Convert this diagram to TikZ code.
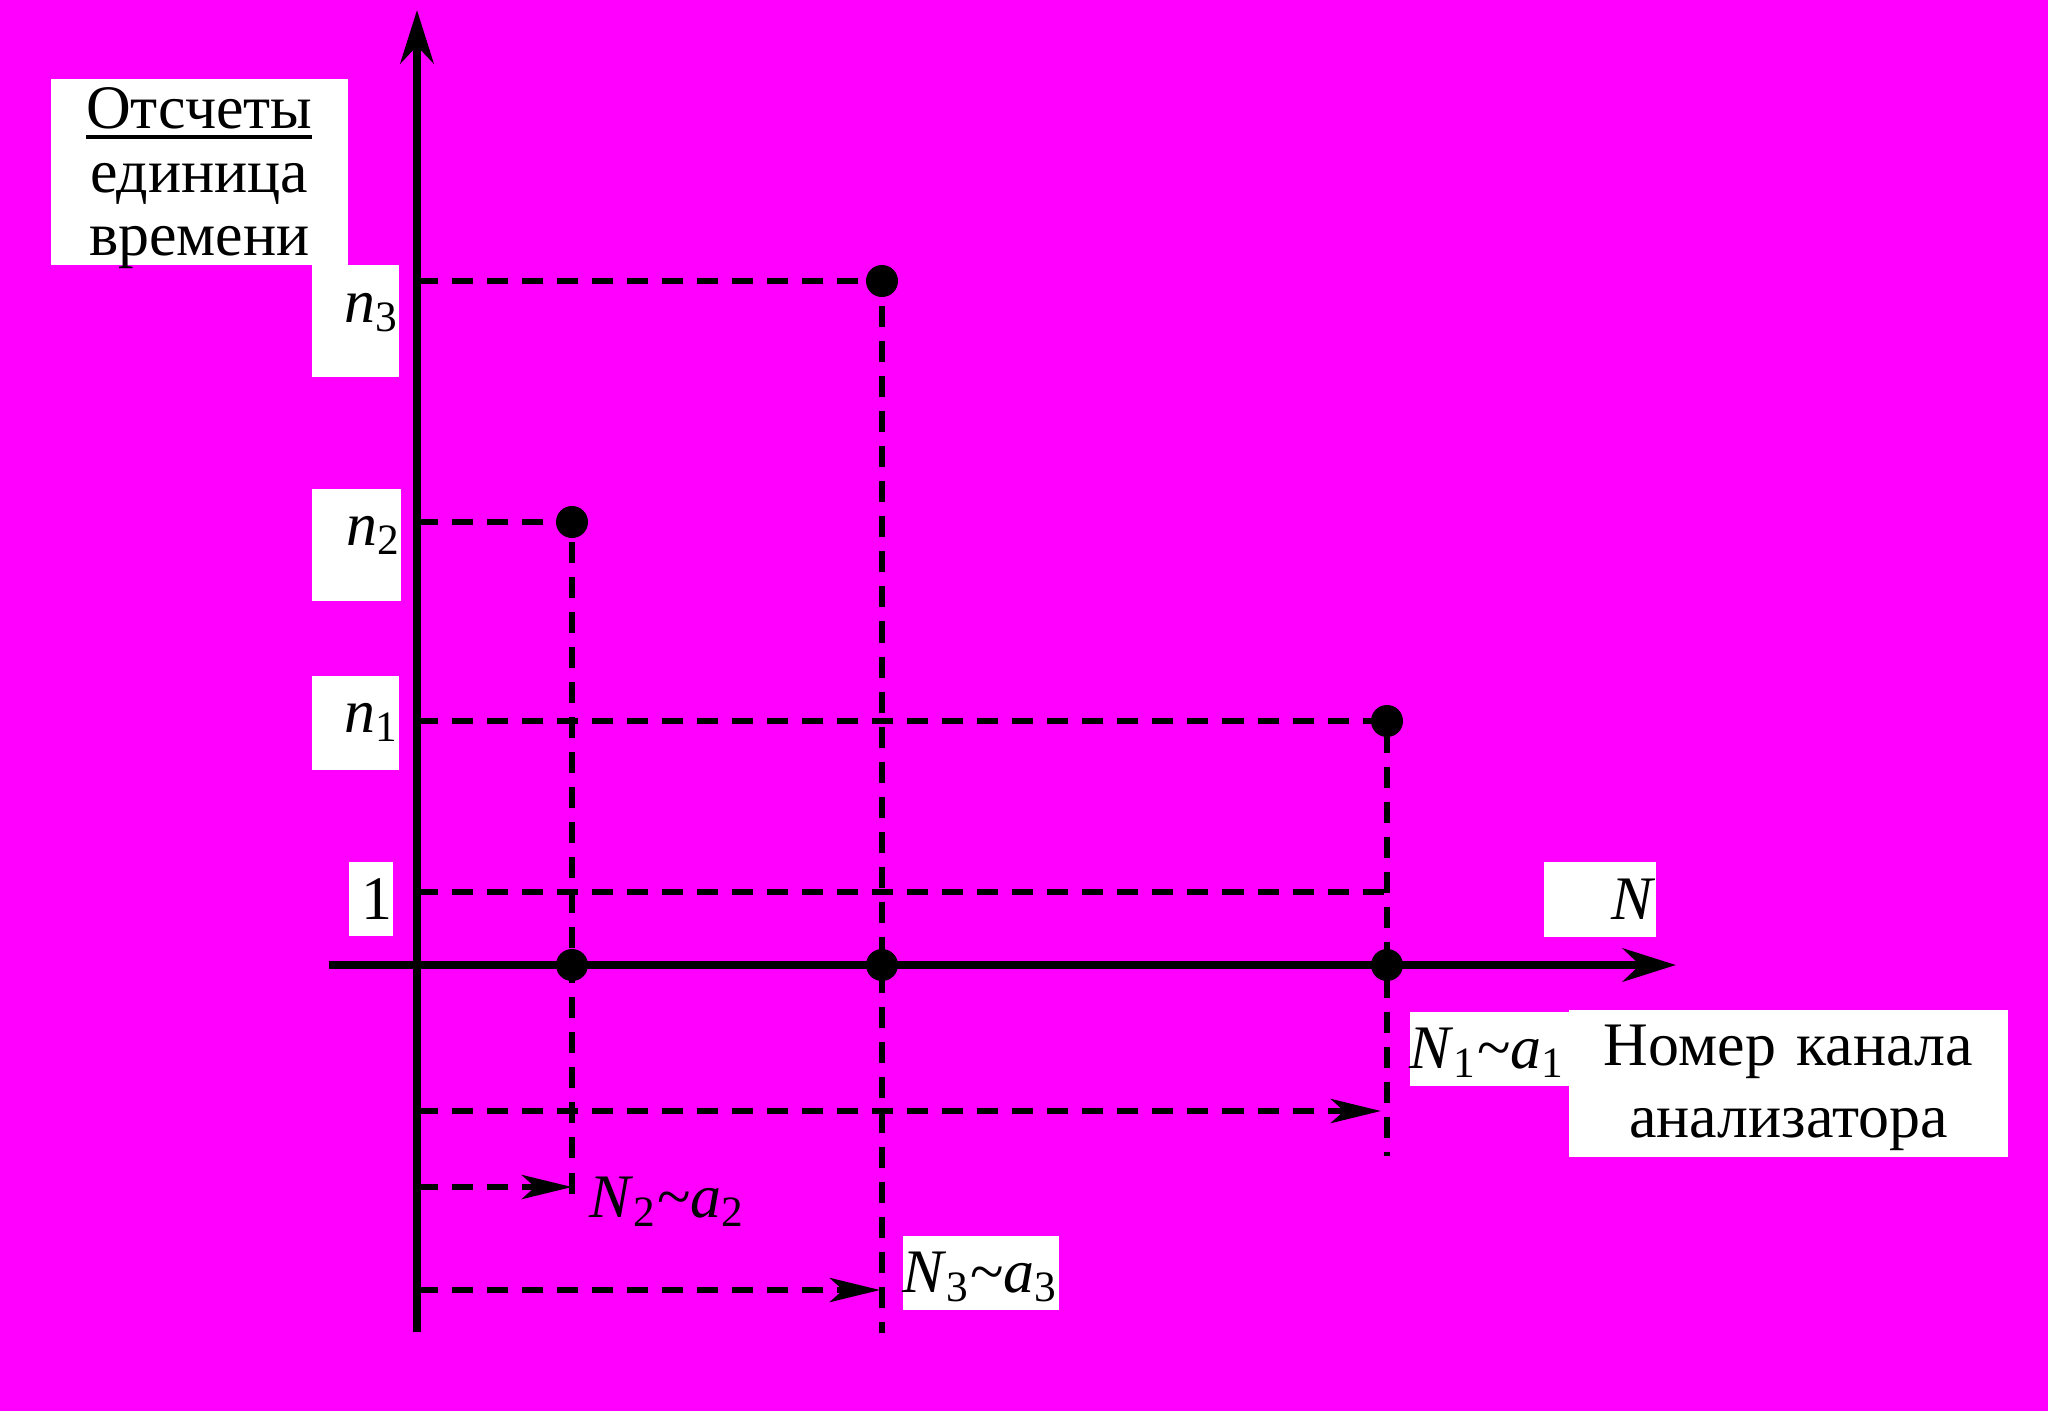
\documentclass[tikz,border=0pt]{standalone}
\usepackage{fontspec}
\setmainfont{Liberation Serif}
\usetikzlibrary{arrows.meta}
\definecolor{bgmagenta}{RGB}{255,0,255}
\newcommand{\thickul}[1]{\leavevmode\setbox0\hbox{#1}\rlap{\rule[-0.10cm]{\wd0}{0.035cm}}\box0}
\begin{document}
\begin{tikzpicture}[x=0.01cm,y=-0.01cm,
  >={Stealth[length=0.53cm,width=0.33cm,inset=0.17cm]},
  axis/.style={line width=0.088cm},
  guide/.style={line width=0.062cm,dash pattern=on 0.21cm off 0.14cm},
  guidearrow/.style={guide,-{Stealth[length=0.5cm,width=0.24cm,inset=0.13cm]}},
  dot/.style={circle,fill=black,inner sep=0pt,minimum size=0.32cm},
  lbl/.style={fill=white,inner sep=0pt,anchor=north west,font=\fontsize{17.6}{21}\selectfont}]
\fill[bgmagenta] (0,0) rectangle (2048,1411);
\coordinate (O) at (417,965);
\coordinate (ytop) at (417,10);
\coordinate (ybot) at (417,1332);
\coordinate (xl) at (329,965);
\coordinate (xr) at (1676,965);
\coordinate (P1) at (1387,721);
\coordinate (P2) at (572,522);
\coordinate (P3) at (882,281);
\coordinate (L1) at (417,892);
\coordinate (E1) at (1387,1156);
\coordinate (E2) at (572,1200);
\coordinate (E3) at (882,1333);
\coordinate (A1) at (1381,1111);
\coordinate (A2) at (572,1187);
\coordinate (A3) at (880,1290);
% levels and channels
\draw[guide] (O |- P3) -- (P3) -- (E3);
\draw[guide] (O |- P2) -- (P2) -- (E2);
\draw[guide] (O |- P1) -- (P1) -- (E1);
\draw[guide] (L1) -- (P1 |- L1);
\draw[guidearrow] (O |- A1) -- (A1);
\draw[guidearrow] (O |- A2) -- (A2);
\draw[guidearrow] (O |- A3) -- (A3);
% axes
\draw[axis,->] (ybot) -- (ytop);
\draw[axis,->] (xl) -- (xr);
\node[dot] (d1) at (P1) {};
\node[dot] (d2) at (P2) {};
\node[dot] (d3) at (P3) {};
\node[dot] (f1) at (P1 |- O) {};
\node[dot] (f2) at (P2 |- O) {};
\node[dot] (f3) at (P3 |- O) {};
% labels
\node[lbl,text width=2.97cm,align=center,text height=0.5cm,text depth=1.36cm,font=\fontsize{17.6}{18}\selectfont] (title) at (50,78) {\thickul{Отсчеты}\\единица\\времени};
\node[lbl,text width=0.87cm,align=right,text height=0.58cm,text depth=0.54cm] (n3) at (311,264) {\textit{n}\textsubscript{3}};
\node[lbl,text width=0.89cm,align=right,text height=0.57cm,text depth=0.55cm] (n2) at (311,488) {\textit{n}\textsubscript{2}};
\node[lbl,text width=0.87cm,align=right,text height=0.57cm,text depth=0.37cm] (n1) at (311,675) {\textit{n}\textsubscript{1}};
\node[lbl,text width=0.44cm,align=right,text height=0.58cm,text depth=0.16cm] (one) at (348,861) {1};
\node[lbl,text width=1.12cm,align=right,text height=0.58cm,text depth=0.17cm] (N) at (1543,861) {\textit{N}};
\node[lbl,text width=1.59cm,align=left,text height=0.57cm,text depth=0.17cm] (N1) at (1409,1011) {\textit{N}\textsubscript{1}\textasciitilde\textit{a}\textsubscript{1}};
\node[lbl,text width=4.39cm,align=center,text height=0.56cm,text depth=0.91cm,font=\fontsize{17.6}{20.5}\selectfont] (canal) at (1568,1009) {Номер канала\\анализатора};
\node[lbl,text width=1.56cm,align=left,text height=0.57cm,text depth=0.17cm] (N3) at (902,1235) {\textit{N}\textsubscript{3}\textasciitilde\textit{a}\textsubscript{3}};
\node[lbl,fill=none,anchor=base west] (N2) at (589,1217) {\textit{N}\textsubscript{2}\textasciitilde\textit{a}\textsubscript{2}};
\end{tikzpicture}
\end{document}
